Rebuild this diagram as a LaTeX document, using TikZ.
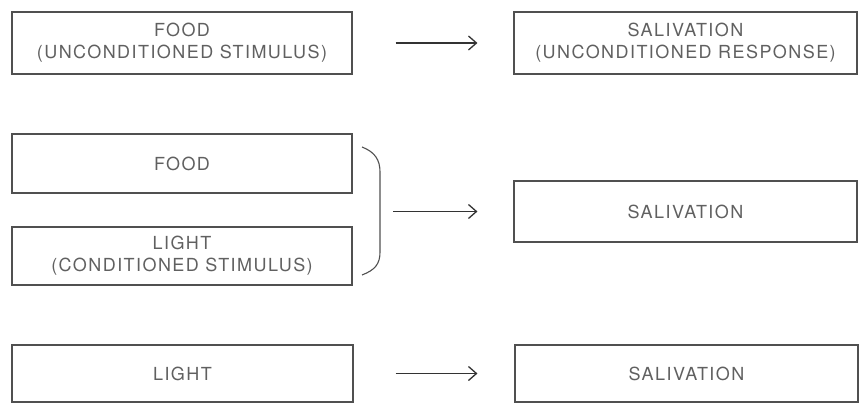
\documentclass[tikz,border=0pt]{standalone}
\usepackage{fontspec}
\setmainfont{TeX Gyre Heros}[LetterSpace=8]
\usetikzlibrary{arrows.meta}
\definecolor{boxline}{HTML}{505050}
\definecolor{txt}{HTML}{606060}
\tikzset{
  stimbox/.style={draw=boxline, line width=1.1pt, rectangle, inner sep=0pt,
    text=txt, align=center, font=\fontsize{18}{22}\selectfont},
  conn/.style={draw=black!80, line width=1.4pt, -{Straight Barb[length=8pt,width=14pt,line width=1.3pt]}}
}
\begin{document}
\begin{tikzpicture}[x=1pt,y=-1pt]
\useasboundingbox (0,0) rectangle (866,404);
% row 1
\node[stimbox, minimum width=340pt, minimum height=62pt] (food1) at (182,43) {FOOD\\(UNCONDITIONED STIMULUS)};
\node[stimbox, minimum width=343pt, minimum height=62pt] (sal1) at (685.5,43) {SALIVATION\\(UNCONDITIONED RESPONSE)};
\draw[conn, shorten <=43pt, shorten >=36pt] (food1.east) -- (sal1.west);
% row 2
\node[stimbox, minimum width=340pt, minimum height=59pt] (food2) at (182,163.5) {FOOD};
\node[stimbox, minimum width=340pt, minimum height=58pt] (light2) at (182,256) {LIGHT\\(CONDITIONED STIMULUS)};
\node[stimbox, minimum width=343pt, minimum height=61pt] (sal2) at (685.5,211.5) {SALIVATION};
\draw[draw=boxline, line width=1.1pt] (362,147) .. controls (375,152) and (380,160) .. (380,172) -- (380,252) .. controls (380,264) and (375,270) .. (362,275);
\coordinate (brace) at (393,211.5);
\draw[conn, shorten >=36pt] (brace) -- (sal2.west);
% row 3
\node[stimbox, minimum width=341pt, minimum height=57pt] (light3) at (182.5,373.5) {LIGHT};
\node[stimbox, minimum width=343pt, minimum height=57pt] (sal3) at (686.5,373.5) {SALIVATION};
\draw[conn, shorten <=42pt, shorten >=37pt] (light3.east) -- (sal3.west);
\end{tikzpicture}
\end{document}
